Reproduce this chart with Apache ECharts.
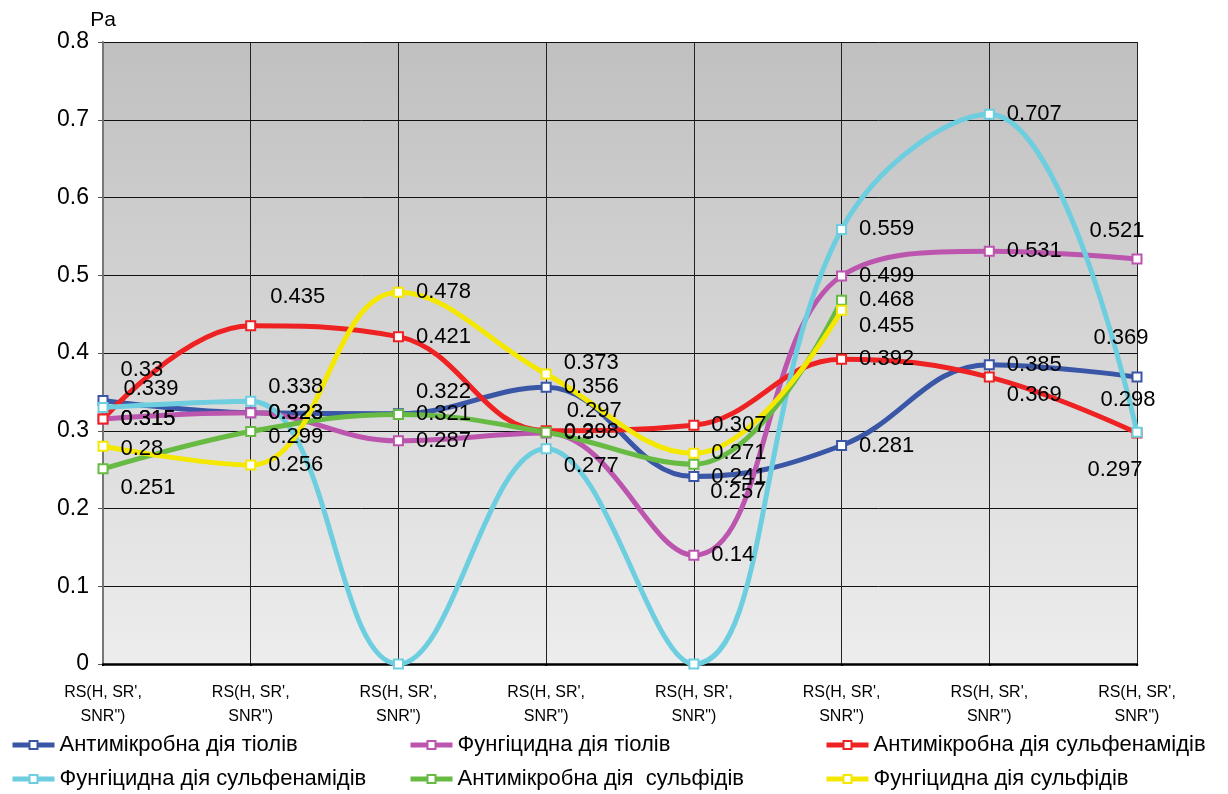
<!DOCTYPE html>
<html>
<head>
<meta charset="utf-8">
<script src="https://cdn.jsdelivr.net/npm/echarts@6/dist/echarts.min.js"></script>
<style>
html,body{margin:0;padding:0;background:#fff;}
#chart{width:1228px;height:794px;}
</style>
</head>
<body>
<div id="chart"></div>
<script>
// ---- data ----
const categories = ["RS(H, SR',\nSNR\")", "RS(H, SR',\nSNR\")", "RS(H, SR',\nSNR\")", "RS(H, SR',\nSNR\")",
                    "RS(H, SR',\nSNR\")", "RS(H, SR',\nSNR\")", "RS(H, SR',\nSNR\")", "RS(H, SR',\nSNR\")"];
const seriesNames = [
  "Антимікробна дія тіолів",
  "Фунгіцидна дія тіолів",
  "Антимікробна дія сульфенамідів",
  "Фунгіцидна дія сульфенамідів",
  "Антимікробна дія  сульфідів",
  "Фунгіцидна дія сульфідів"
];
const antimicrobialThiols   = [0.339, 0.323, 0.322, 0.356, 0.241, 0.281, 0.385, 0.369];
const fungicidalThiols      = [0.315, 0.323, 0.287, 0.297, 0.14, 0.499, 0.531, 0.521];
const antimicrobialSulfen   = [0.315, 0.435, 0.421, 0.3, 0.307, 0.392, 0.369, 0.297];
const fungicidalSulfen      = [0.33, 0.338, 0, 0.277, 0, 0.559, 0.707, 0.298];
const antimicrobialSulfides = [0.251, 0.299, 0.321, 0.298, 0.257, 0.468];
const fungicidalSulfides    = [0.28, 0.256, 0.478, 0.373, 0.271, 0.455];
const yTicks = { min: 0, max: 0.8, interval: 0.1 };

// ---- styling ----
const colors = ['#3A56A6', '#BC55AE', '#EE2222', '#6CCEDF', '#67BA42', '#F5E800'];
// label nudges [dx, dy] keyed "series-index"
const labelNudge = {
  '0-0': [3, -11], '0-2': [0, -22], '0-7': [-61, -39],
  '1-3': [3, -22], '1-7': [-65, -28],
  '2-1': [2, -29], '2-3': [0, 2], '2-6': [0, 18], '2-7': [-67, 37],
  '3-0': [0, -37], '3-1': [0, -14], '3-3': [0, 17], '3-7': [-54, -32],
  '4-0': [0, 19], '4-1': [0, 5], '4-4': [-1, 28],
  '5-0': [0, 3], '5-3': [0, -11], '5-5': [0, 16]
};
const allData = [antimicrobialThiols, fungicidalThiols, antimicrobialSulfen, fungicidalSulfen, antimicrobialSulfides, fungicidalSulfides];
const FONT = "'Liberation Sans', Arial, sans-serif";

const series = allData.map((arr, si) => ({
  name: seriesNames[si],
  type: 'line',
  smooth: 0.4,
  symbol: 'emptyRect',
  symbolSize: 9,
  color: colors[si],
  lineStyle: { width: 5, color: colors[si] },
  itemStyle: { color: colors[si], borderColor: colors[si], borderWidth: 1.5 },
  label: {
    show: true, position: 'right', distance: 12,
    color: '#000', fontSize: 22, fontFamily: FONT,
    formatter: p => (p.value === 0 ? '' : String(p.value))
  },
  emphasis: { disabled: true },
  data: arr.map((v, di) => {
    const n = labelNudge[si + '-' + di];
    return n ? { value: v, label: { offset: n } } : { value: v };
  })
}));

const legendPos = [[10, 734], [408, 734], [824, 734], [10, 768], [408, 768], [824, 768]];
const legends = seriesNames.map((nm, i) => ({
  data: [nm], left: legendPos[i][0], top: legendPos[i][1],
  itemWidth: 42, itemHeight: 10, padding: 0,
  lineStyle: { width: 5 },
  textStyle: { fontSize: 22, color: '#000', fontFamily: FONT },
  selectedMode: false
}));

const chart = echarts.init(document.getElementById('chart'), null, { renderer: 'canvas' });
chart.setOption({
  animation: false,
  backgroundColor: '#fff',
  legend: legends,
  grid: {
    left: 103, right: 91, top: 42, bottom: 130, show: true, borderWidth: 0,
    backgroundColor: { type: 'linear', x: 0, y: 0, x2: 0, y2: 1,
      colorStops: [{ offset: 0, color: '#C0C0C0' }, { offset: 1, color: '#EDEDED' }] }
  },
  xAxis: {
    type: 'category', data: categories, boundaryGap: false,
    axisLine: { lineStyle: { color: '#000', width: 2.5 } },
    axisTick: { show: true, length: 2, lineStyle: { color: '#000', width: 2 } },
    axisLabel: { fontSize: 16, lineHeight: 24, color: '#000', margin: 17, fontFamily: FONT, interval: 0 },
    splitLine: { show: true, lineStyle: { color: '#222', width: 1 } }
  },
  yAxis: {
    type: 'value', min: yTicks.min, max: yTicks.max, interval: yTicks.interval,
    name: 'Pa', nameLocation: 'end', nameGap: 9,
    nameTextStyle: { fontSize: 21, color: '#000', fontFamily: FONT, padding: [0, 0, 0, 0] },
    axisLine: { show: true, lineStyle: { color: '#777', width: 2 } },
    axisTick: { show: true, length: 5, lineStyle: { color: '#555' } },
    axisLabel: { fontSize: 23, color: '#000', margin: 14, fontFamily: FONT },
    splitLine: { show: true, lineStyle: { color: '#111', width: 1 } }
  },
  series: series
});
</script>
</body>
</html>
